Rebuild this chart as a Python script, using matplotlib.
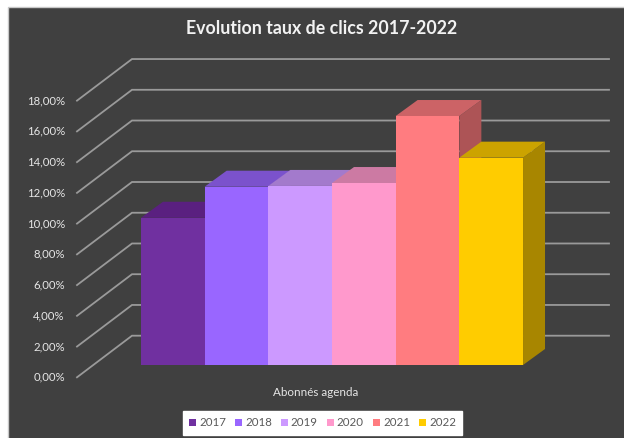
"""Clic-rate evolution 2017-2022, drawn as an oblique 3D clustered column chart."""

import matplotlib

matplotlib.use("Agg")
import matplotlib.pyplot as plt
from matplotlib.patches import Polygon, Rectangle

WIDTH, HEIGHT = 624, 438

years = ["2017", "2018", "2019", "2020", "2021", "2022"]
rates = [9.58, 11.60, 11.65, 11.84, 16.20, 13.49]
bar_colors = ["#7030A0", "#9966FF", "#CC99FF", "#FF99CC", "#FF7C80", "#FFCC00"]
top_colors = ["#5A2080", "#7B52CC", "#A37ACC", "#CC7AA3", "#CC6366", "#CCA300"]
side_colors = ["#4A1A6A", "#6A46B0", "#8C69B0", "#B06A8C", "#AD5456", "#A88600"]
y_ticks = [0, 2, 4, 6, 8, 10, 12, 14, 16, 18]

# Front plane of the columns in pixels: x = X0 + PX_X * slot, y = Y0 - PX_Y * value
X0, PX_X = 141.0, 63.67
Y0, PX_Y = 365.0, 15.37

# Column depth and wall offsets, in data units
DEPTH_X, DEPTH_Y = 22 / PX_X, 16 / PX_Y
WALL_FRONT_X, WALL_FRONT_Y = (77 - X0) / PX_X, (Y0 - 377.3) / PX_Y
WALL_BACK_X, WALL_BACK_Y = (132 - X0) / PX_X, (Y0 - 335.7) / PX_Y
GRID_END_X = (609 - X0) / PX_X

BG = "#404040"
GRID = "#9A9A9A"
TEXT = "#E6E6E6"

plt.rcParams["font.family"] = ["Lato", "DejaVu Sans"]

fig = plt.figure(figsize=(WIDTH / 100, HEIGHT / 100), dpi=100, facecolor="white")
ax = fig.add_axes([0, 0, 1, 1])
ax.set_xlim(-X0 / PX_X, (WIDTH - X0) / PX_X)
ax.set_ylim((Y0 - HEIGHT) / PX_Y, Y0 / PX_Y)
ax.axis("off")

# Dark chart area with its thin light edge, running off the right and bottom
fig.add_artist(
    Rectangle(
        (8 / WIDTH, -0.02),
        1,
        1.02 - 6.5 / HEIGHT,
        transform=fig.transFigure,
        facecolor=BG,
        edgecolor="#C8C8C8",
        lw=1.0,
        zorder=-1,
    )
)

# Gridlines: a slanted stroke on the side wall, then along the back wall
for tick in y_ticks:
    ax.plot(
        [WALL_FRONT_X, WALL_BACK_X, GRID_END_X],
        [tick + WALL_FRONT_Y, tick + WALL_BACK_Y, tick + WALL_BACK_Y],
        color=GRID,
        lw=1.3,
        solid_joinstyle="miter",
        zorder=1,
    )
    ax.text(
        WALL_FRONT_X - 0.19,
        tick + WALL_FRONT_Y,
        f"{tick:.2f}%".replace(".", ","),
        color=TEXT,
        fontsize=8.2,
        ha="right",
        va="center",
        zorder=5,
    )

# Columns, left to right so each one covers the side of the previous one
for slot, rate in enumerate(rates):
    left, right = slot, slot + 1
    ax.add_patch(
        Polygon(
            [
                (right, 0),
                (right + DEPTH_X, DEPTH_Y),
                (right + DEPTH_X, rate + DEPTH_Y),
                (right, rate),
            ],
            facecolor=side_colors[slot],
            edgecolor="none",
            zorder=2 + slot * 0.1,
        )
    )
    ax.add_patch(
        Polygon(
            [
                (left, rate),
                (left + DEPTH_X, rate + DEPTH_Y),
                (right + DEPTH_X, rate + DEPTH_Y),
                (right, rate),
            ],
            facecolor=top_colors[slot],
            edgecolor="none",
            zorder=2 + slot * 0.1,
        )
    )
    ax.bar(
        left,
        rate,
        width=1,
        align="edge",
        color=bar_colors[slot],
        edgecolor="none",
        label=years[slot],
        zorder=2.05 + slot * 0.1,
    )

fig.text(
    321.5 / WIDTH,
    1 - 28 / HEIGHT,
    "Evolution taux de clics 2017-2022",
    color="#F2F2F2",
    fontsize=12.75,
    fontweight="bold",
    ha="center",
    va="center",
)
fig.text(
    315.5 / WIDTH,
    1 - 392.5 / HEIGHT,
    "Abonnés agenda",
    color=TEXT,
    fontsize=8.4,
    ha="center",
    va="center",
)

legend = ax.legend(
    loc="center",
    bbox_to_anchor=(322.5 / WIDTH, 1 - 423 / HEIGHT),
    bbox_transform=fig.transFigure,
    ncol=6,
    frameon=True,
    fancybox=False,
    framealpha=1,
    facecolor="white",
    edgecolor="white",
    fontsize=8.3,
    labelcolor="#595959",
    handlelength=0.62,
    handleheight=0.62,
    handletextpad=0.25,
    columnspacing=0.78,
    borderpad=0.55,
)
legend.set_zorder(6)

fig.savefig("out.png", dpi=100, facecolor="white")
